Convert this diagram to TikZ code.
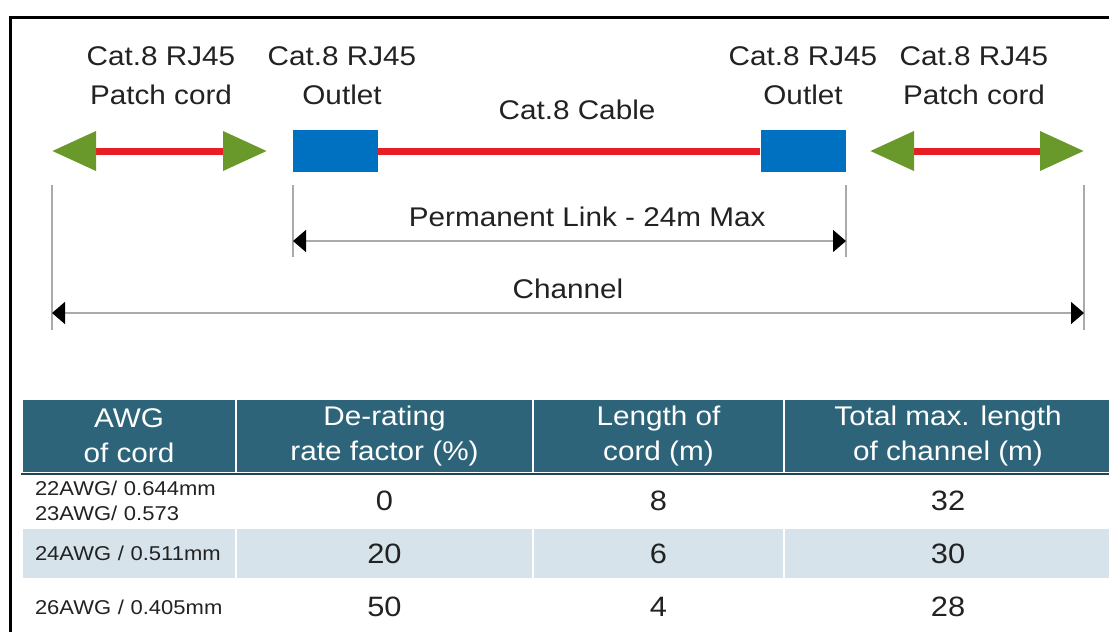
\documentclass[tikz,border=0pt]{standalone}
\usepackage{fontspec}
\setmainfont[FakeStretch=1.1]{Liberation Sans}
\usetikzlibrary{arrows.meta,positioning}

\begin{document}
\begin{tikzpicture}[
        x=1pt, y=-1pt,
    ]

    \tikzstyle{lbl} = [align=center, inner sep=0pt, text=textgray,
                       font=\fontsize{27}{39}\selectfont];
    \tikzstyle{outlet} = [rectangle, fill=outletblue, minimum width=85pt,
                          minimum height=42pt, inner sep=0pt];
    \tikzstyle{cord} = [line width=7pt, cablered,
                        {Triangle[length=44pt,width=38pt,color=cordgreen]}-{Triangle[length=44pt,width=38pt,color=cordgreen]}];
    \tikzstyle{cable} = [line width=7pt, cablered];
    \tikzstyle{ext} = [line width=1.5pt, dimgray];
    \tikzstyle{dim} = [line width=1.5pt, dimgray,
                       {Triangle[length=13pt,width=22pt,color=black]}-{Triangle[length=13pt,width=22pt,color=black]}];
    \tikzstyle{cell} = [rectangle, draw=white, line width=2pt, inner sep=0pt, align=center];
    \tikzstyle{head} = [cell, fill=headteal, text=white, minimum height=74pt,
                        font=\fontsize{27}{35}\selectfont];
    \tikzstyle{num} = [cell, text=textgray, font=\fontsize{28}{34}\selectfont];
    \tikzstyle{awg} = [cell, text=textgray, align=left, text width=188pt,
                       inner xsep=13pt, font=\fontsize{20}{25}\selectfont];

    \definecolor{cordgreen}{RGB}{106,153,43}
    \definecolor{cablered}{RGB}{232,30,38}
    \definecolor{outletblue}{RGB}{0,112,192}
    \definecolor{headteal}{RGB}{45,100,121}
    \definecolor{rowblue}{RGB}{214,227,234}
    \definecolor{textgray}{RGB}{34,34,34}
    \definecolor{dimgray}{RGB}{170,170,170}

    \useasboundingbox (0,0) rectangle (1109,632);

    % Frame
    \draw[line width=3pt] (10.5,640) -- (10.5,17) -- (1120,17);

    % Nodes
    \node[lbl] (cordLlbl) at (161,76) {Cat.8 RJ45\\Patch cord};
    \node[lbl] (outLlbl) at (342,76) {Cat.8 RJ45\\Outlet};
    \node[lbl] (cablelbl) at (577,110) {Cat.8 Cable};
    \node[lbl] (outRlbl) at (803,76) {Cat.8 RJ45\\Outlet};
    \node[lbl] (cordRlbl) at (974,76) {Cat.8 RJ45\\Patch cord};

    \node[outlet] (outL) at (335.5,151) {};
    \node[outlet] (outR) at (803,151) {};

    \coordinate (cordLa) at (52,151);
    \coordinate (cordLb) at (267,151);
    \coordinate (cordRa) at (870,151);
    \coordinate (cordRb) at (1084,151);

    % Arrows
    \draw[cord] (cordLa) -- (cordLb);
    \draw[cord] (cordRa) -- (cordRb);
    \draw[cable] (outL) -- (outR);

    % Dimension lines
    \draw[ext] (52,185) -- (52,330);
    \draw[ext] (293,185) -- (293,257);
    \draw[ext] (846,185) -- (846,257);
    \draw[ext] (1084,185) -- (1084,330);

    \coordinate (linkL) at (293,241);
    \coordinate (linkR) at (846,241);
    \coordinate (chanL) at (52,313);
    \coordinate (chanR) at (1084,313);

    \draw[dim] (linkL) -- (linkR)
        node[lbl, pos=0.532, above=13pt] (linklbl) {Permanent Link - 24m Max};
    \draw[dim] (chanL) -- (chanR)
        node[lbl, midway, above=13pt] (chanlbl) {Channel};

    % Table
    \node[head, minimum width=214pt] (h1) at (129,436) {AWG\\of cord};
    \node[head, minimum width=297pt] (h2) at (384.5,436) {De-rating\\rate factor (\%)};
    \node[head, minimum width=251pt] (h3) at (658.5,436) {Length of\\cord (m)};
    \node[head, minimum width=328pt] (h4) at (948,436) {Total max. length\\of channel (m)};

    \node[awg, minimum height=55pt] (a1) at (129,500.5) {22AWG/ 0.644mm\\23AWG/ 0.573};
    \node[num, minimum width=297pt, minimum height=55pt] (d1) at (384.5,500.5) {0};
    \node[num, minimum width=251pt, minimum height=55pt] (l1) at (658.5,500.5) {8};
    \node[num, minimum width=328pt, minimum height=55pt] (t1) at (948,500.5) {32};

    \node[awg, fill=rowblue, minimum height=51pt] (a2) at (129,553.5) {24AWG / 0.511mm};
    \node[num, fill=rowblue, minimum width=297pt, minimum height=51pt] (d2) at (384.5,553.5) {20};
    \node[num, fill=rowblue, minimum width=251pt, minimum height=51pt] (l2) at (658.5,553.5) {6};
    \node[num, fill=rowblue, minimum width=328pt, minimum height=51pt] (t2) at (948,553.5) {30};

    \node[awg, minimum height=56pt] (a3) at (129,607) {26AWG / 0.405mm};
    \node[num, minimum width=297pt, minimum height=56pt] (d3) at (384.5,607) {50};
    \node[num, minimum width=251pt, minimum height=56pt] (l3) at (658.5,607) {4};
    \node[num, minimum width=328pt, minimum height=56pt] (t3) at (948,607) {28};

    \draw[line width=1.5pt, headteal!70!black] (h1.south west) -- (h4.south east);

\end{tikzpicture}
\end{document}
